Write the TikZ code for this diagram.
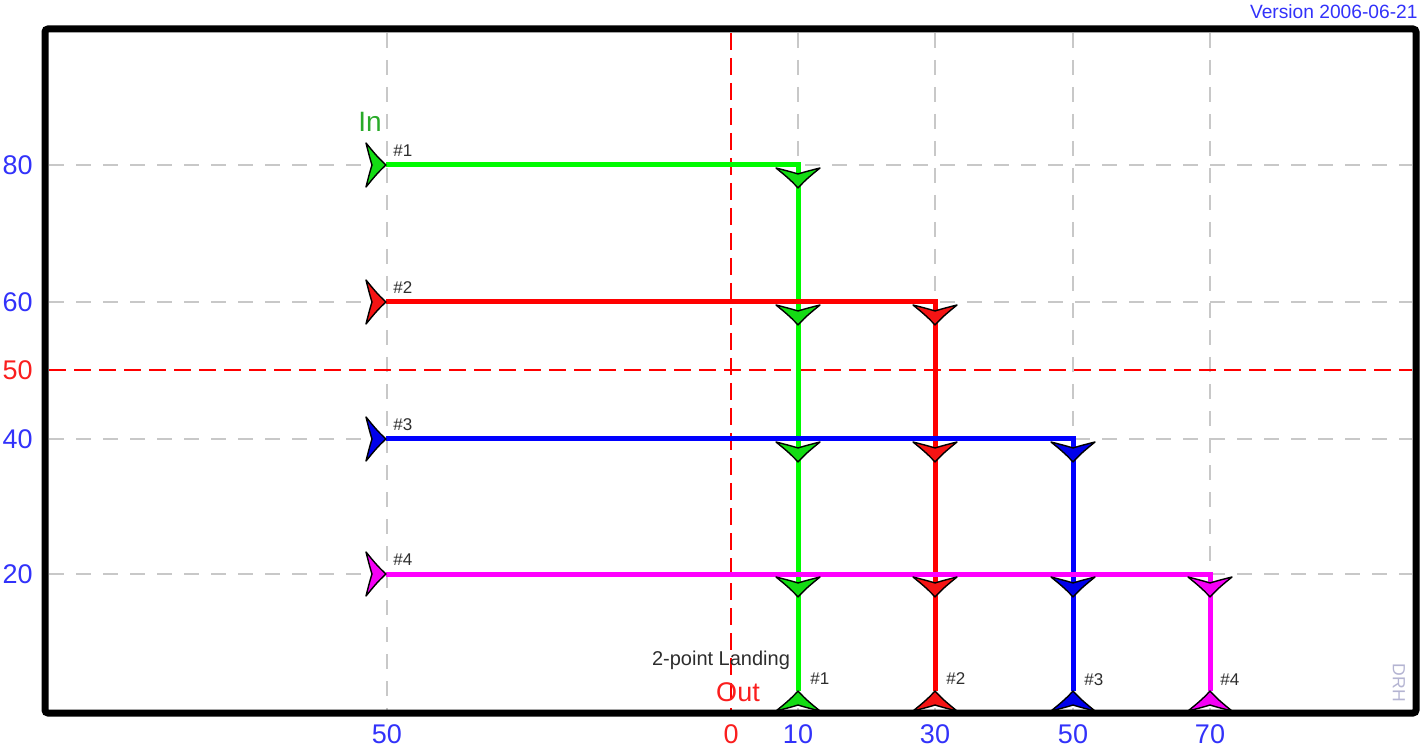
\documentclass[tikz,border=0pt]{standalone}
\usepackage{fontspec}
\setmainfont{Liberation Sans}
\usepackage{xcolor}
\usetikzlibrary{calc}

\definecolor{gridGray}{RGB}{200,200,200}
\definecolor{axisBlue}{RGB}{50,50,250}
\definecolor{axisRed}{RGB}{250,30,30}
\definecolor{inGreen}{RGB}{40,170,40}
\definecolor{tagGray}{RGB}{45,45,45}
\definecolor{signGray}{RGB}{180,180,210}
\definecolor{lineGreen}{RGB}{0,250,0}
\definecolor{lineRed}{RGB}{255,0,0}
\definecolor{lineBlue}{RGB}{0,0,255}
\definecolor{lineMagenta}{RGB}{255,0,255}
\definecolor{fillGreen}{RGB}{20,220,20}
\definecolor{fillRed}{RGB}{245,20,20}
\definecolor{fillBlue}{RGB}{0,0,235}
\definecolor{fillMagenta}{RGB}{245,0,245}

\begin{document}
\begin{tikzpicture}[x=0.5pt, y=-0.5pt,
    grid/.style ={gridGray, line width=1pt, dash pattern=on 7.5pt off 6pt},
    zero/.style ={lineRed, line width=1.2pt, dash pattern=on 8.5pt off 4pt},
    route/.style ={line width=2.5pt},
    tick/.style ={font=\fontsize{13.5}{14}\selectfont, text=axisBlue, inner sep=0pt},
    tag/.style ={font=\fontsize{8.5}{9}\selectfont, text=tagGray, inner sep=0pt},
    pics/flag/.style ={code={
      \filldraw[fill=#1, draw=black, line width=0.7pt, line join=round]
        (0,0) .. controls (-9,-8) and (-15,-16) .. (-20,-22)
        .. controls (-17,-10) and (-15,-3) .. (-14,0)
        .. controls (-15,3) and (-17,10) .. (-20,22)
        .. controls (-15,16) and (-9,8) .. (0,0) -- cycle;}}]
    \useasboundingbox (0,0) rectangle (1424,748);
    % grid - vertical
    \draw[grid] (387,33) -- (387,710);
    \draw[grid] (798,33) -- (798,710);
    \draw[grid] (935,33) -- (935,710);
    \draw[grid] (1073,33) -- (1073,710);
    \draw[grid] (1210,33) -- (1210,710);
    % grid - horizontal
    \draw[grid] (49,165) -- (1412,165);
    \draw[grid] (49,302) -- (1412,302);
    \draw[grid] (49,439) -- (1412,439);
    \draw[grid] (49,574) -- (1412,574);
    % zero lines
    \draw[zero] (731,33) -- (731,710);
    \draw[zero] (49,370) -- (1412,370);
    % route end points
    \coordinate (in1) at (386,165); \coordinate (turn1) at (798,165); \coordinate (out1) at (798,691);
    \coordinate (in2) at (386,302); \coordinate (turn2) at (935,302); \coordinate (out2) at (935,691);
    \coordinate (in3) at (386,439); \coordinate (turn3) at (1073,439); \coordinate (out3) at (1073,691);
    \coordinate (in4) at (386,574); \coordinate (turn4) at (1210,574); \coordinate (out4) at (1210,691);
    % routes
    \draw[route, lineGreen] (in1) -- (turn1) -- (out1);
    \draw[route, lineRed] (in2) -- (turn2) -- (out2);
    \draw[route, lineBlue] (in3) -- (turn3) -- (out3);
    \draw[route, lineMagenta] (in4) -- (turn4) -- (out4);
    % entry marks
    \pic at (in1) {flag=fillGreen};
    \pic at (in2) {flag=fillRed};
    \pic at (in3) {flag=fillBlue};
    \pic at (in4) {flag=fillMagenta};
    % crossing marks - route 1
    \pic[rotate=-90] at ($(turn1)+(0,23)$) {flag=fillGreen};
    \pic[rotate=-90] at ($(turn1|-in2)+(0,23)$) {flag=fillGreen};
    \pic[rotate=-90] at ($(turn1|-in3)+(0,23)$) {flag=fillGreen};
    \pic[rotate=-90] at ($(turn1|-in4)+(0,23)$) {flag=fillGreen};
    % crossing marks - route 2
    \pic[rotate=-90] at ($(turn2)+(0,23)$) {flag=fillRed};
    \pic[rotate=-90] at ($(turn2|-in3)+(0,23)$) {flag=fillRed};
    \pic[rotate=-90] at ($(turn2|-in4)+(0,23)$) {flag=fillRed};
    % crossing marks - route 3
    \pic[rotate=-90] at ($(turn3)+(0,23)$) {flag=fillBlue};
    \pic[rotate=-90] at ($(turn3|-in4)+(0,23)$) {flag=fillBlue};
    % crossing marks - route 4
    \pic[rotate=-90] at ($(turn4)+(0,23)$) {flag=fillMagenta};
    % landing marks
    \pic[rotate=90] at (out1) {flag=fillGreen};
    \pic[rotate=90] at (out2) {flag=fillRed};
    \pic[rotate=90] at (out3) {flag=fillBlue};
    \pic[rotate=90] at (out4) {flag=fillMagenta};
    % outer frame
    \draw[line width=3.5pt, rounded corners=1.5pt] (45,29) rectangle (1416,713);
    % route tags
    \node[tag, anchor=west] (tagIn1) at ($(in1)+(7,-14)$) {\#1};
    \node[tag, anchor=west] (tagIn2) at ($(in2)+(7,-14)$) {\#2};
    \node[tag, anchor=west] (tagIn3) at ($(in3)+(7,-14)$) {\#3};
    \node[tag, anchor=west] (tagIn4) at ($(in4)+(7,-14)$) {\#4};
    \node[tag, anchor=west] (tagOut1) at (810,679) {\#1};
    \node[tag, anchor=west] (tagOut2) at (946,679) {\#2};
    \node[tag, anchor=west] (tagOut3) at (1084,680) {\#3};
    \node[tag, anchor=west] (tagOut4) at (1220,680) {\#4};
    % captions
    \node[inner sep=0pt, text=inGreen, font=\fontsize{14}{14}\selectfont] (inLbl) at (370,122) {In};
    \node[inner sep=0pt, text=axisRed, font=\fontsize{13.5}{14}\selectfont] (outLbl) at (738,692) {Out};
    \node[inner sep=0pt, text=tagGray, font=\fontsize{10}{10}\selectfont, anchor=base] (landLbl) at (721,665) {2-point Landing};
    \node[inner sep=0pt, text=axisBlue, font=\fontsize{9.6}{10}\selectfont, anchor=east] (verLbl) at (1418,12) {Version 2006-06-21};
    \node[inner sep=0pt, text=signGray, font=\fontsize{8.8}{9}\selectfont, rotate=-90] (signLbl) at (1399,683) {DRH};
    % axis - left
    \node[tick, anchor=east] (y80) at (33,165) {80};
    \node[tick, anchor=east] (y60) at (33,302) {60};
    \node[tick, anchor=east, text=axisRed] (y50) at (33,370) {50};
    \node[tick, anchor=east] (y40) at (33,439) {40};
    \node[tick, anchor=east] (y20) at (33,574) {20};
    % axis - bottom
    \node[tick] (x50a) at (387,734) {50};
    \node[tick, text=axisRed] (x0) at (731,734) {0};
    \node[tick] (x10) at (798,734) {10};
    \node[tick] (x30) at (935,734) {30};
    \node[tick] (x50b) at (1073,734) {50};
    \node[tick] (x70) at (1210,734) {70};
\end{tikzpicture}
\end{document}
